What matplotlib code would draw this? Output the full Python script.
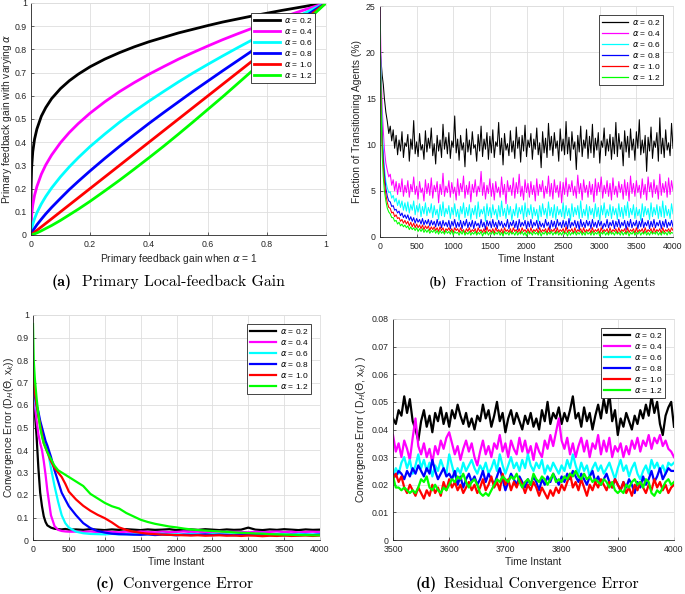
import numpy as np
import matplotlib
matplotlib.use('Agg')
import matplotlib.pyplot as plt

plt.rcParams['font.family'] = ['Liberation Sans', 'DejaVu Sans']
plt.rcParams['mathtext.fontset'] = 'dejavusans'

# ----------------------------------------------------------
# data
# ----------------------------------------------------------
alpha_labels = [r'$\alpha$ = 0.2', r'$\alpha$ = 0.4', r'$\alpha$ = 0.6',
                r'$\alpha$ = 0.8', r'$\alpha$ = 1.0', r'$\alpha$ = 1.2']
colors = ['#000000', '#ff00ff', '#00ffff', '#0000ff', '#ff0000', '#00ff00']

# (a) primary local-feedback gain
gain_x = [0, 0.0003, 0.002, 0.006, 0.012, 0.02, 0.035, 0.05, 0.07, 0.1, 0.13, 0.16, 0.2, 0.25, 0.3,
          0.35, 0.4, 0.45, 0.5, 0.55, 0.6, 0.65, 0.7, 0.75, 0.8, 0.85, 0.9, 0.95, 1.0]
gain_a02 = [0, 0.198, 0.289, 0.359, 0.413, 0.457, 0.512, 0.549, 0.588, 0.631, 0.665, 0.693, 0.725, 0.758, 0.786,
            0.811, 0.833, 0.852, 0.871, 0.887, 0.903, 0.918, 0.931, 0.944, 0.956, 0.968, 0.979, 0.990, 1.0]
gain_a04 = [0, 0.039, 0.083, 0.129, 0.171, 0.209, 0.262, 0.302, 0.345, 0.398, 0.442, 0.480, 0.525, 0.574, 0.618,
            0.657, 0.693, 0.726, 0.758, 0.787, 0.815, 0.842, 0.867, 0.891, 0.915, 0.937, 0.959, 0.980, 1.0]
gain_a06 = [0, 0.008, 0.024, 0.046, 0.070, 0.096, 0.134, 0.166, 0.203, 0.251, 0.294, 0.333, 0.381, 0.435, 0.486,
            0.533, 0.577, 0.619, 0.660, 0.699, 0.736, 0.772, 0.807, 0.841, 0.875, 0.907, 0.939, 0.970, 1.0]
gain_a08 = [0, 0.0015, 0.007, 0.017, 0.029, 0.044, 0.068, 0.091, 0.119, 0.158, 0.196, 0.231, 0.276, 0.330, 0.382,
            0.432, 0.481, 0.528, 0.574, 0.620, 0.664, 0.708, 0.751, 0.794, 0.837, 0.878, 0.919, 0.960, 1.0]
gain_a10 = [0, 0.0003, 0.002, 0.006, 0.012, 0.02, 0.035, 0.05, 0.07, 0.1, 0.13, 0.16, 0.2, 0.25, 0.3,
            0.35, 0.4, 0.45, 0.5, 0.55, 0.6, 0.65, 0.7, 0.75, 0.8, 0.85, 0.9, 0.95, 1.0]
gain_a12 = [0, 0.0001, 0.0006, 0.0022, 0.005, 0.009, 0.018, 0.028, 0.041, 0.063, 0.087, 0.111, 0.145, 0.190, 0.236,
            0.284, 0.333, 0.383, 0.435, 0.488, 0.542, 0.596, 0.652, 0.708, 0.765, 0.822, 0.882, 0.941, 1.0]

# (b) fraction of transitioning agents (%), early samples then every 20 steps
t_b = np.concatenate([[0, 10, 20, 30, 45, 60, 80], np.linspace(100, 4000, 196)])
frac_a02 = [20.5, 19.5, 18.5, 17.5, 16.5, 15, 13.5,
            12.5, 11.2, 12.0, 10.4, 11.6, 9.6, 11.0, 8.9, 10.5, 9.3, 11.4, 8.6, 10.2, 9.8,
            11.1, 8.2, 10.6, 9.5, 12.6, 9.0, 10.3, 8.7, 11.2, 9.4, 10.0, 8.4, 11.5, 9.2,
            10.7, 9.6, 11.8, 8.8, 10.1, 7.9, 11.0, 9.3, 10.5, 8.6, 12.2, 9.5, 10.8, 9.0,
            11.3, 8.5, 10.4, 9.7, 13.1, 9.1, 10.6, 8.3, 11.0, 9.4, 10.2, 7.6, 11.7, 9.2,
            10.5, 8.9, 11.4, 9.6, 10.0, 8.2, 11.1, 9.3, 12.0, 8.7, 10.6, 9.5, 11.3, 8.4,
            10.9, 9.1, 11.6, 8.6, 10.3, 9.8, 12.4, 8.9, 10.7, 7.8, 11.2, 9.4, 10.1, 8.8,
            11.5, 9.2, 10.4, 8.5, 11.9, 9.6, 10.8, 8.1, 11.0, 9.3, 12.1, 8.7, 10.5, 9.7,
            11.2, 8.4, 10.6, 9.5, 11.8, 8.9, 10.2, 7.5, 11.4, 9.1, 10.7, 8.6, 12.3, 9.4,
            10.9, 8.8, 11.3, 9.6, 10.4, 8.2, 11.7, 9.3, 10.6, 8.9, 12.5, 9.0, 10.8, 8.3,
            11.4, 9.5, 10.3, 7.3, 11.0, 9.2, 12.0, 8.7, 10.5, 9.6, 11.6, 8.5, 10.9, 9.1,
            12.2, 8.6, 10.7, 9.4, 11.3, 8.0, 10.4, 9.7, 11.8, 8.8, 10.6, 9.3, 11.1, 8.4,
            10.8, 9.0, 12.4, 8.7, 11.2, 9.5, 10.3, 7.7, 11.5, 9.2, 10.9, 8.6, 11.7, 9.4,
            10.6, 8.3, 11.4, 9.6, 12.7, 8.9, 10.5, 9.1, 11.0, 7.1, 10.8, 9.3, 11.9, 8.5,
            10.4, 9.7, 11.3, 8.2, 12.9, 9.0, 10.7, 8.6, 11.6, 9.4, 10.2, 8.8, 12.3, 9.6]
frac_a04 = [25, 21, 17, 14, 11.5, 9.5, 8.0,
            7.2, 6.5, 6.8, 5.6, 6.2, 5.0, 6.0, 4.6, 5.8, 4.9, 6.3, 4.4, 5.6, 4.8,
            6.1, 4.3, 5.7, 4.9, 6.5, 4.6, 5.5, 4.1, 6.0, 4.8, 5.3, 3.9, 6.2, 4.7,
            5.8, 4.5, 6.4, 4.2, 5.6, 4.9, 6.0, 3.7, 5.7, 4.6, 6.9, 4.4, 5.5, 4.8,
            6.1, 4.3, 5.9, 4.7, 5.4, 4.0, 6.3, 4.5, 5.8, 4.9, 6.6, 4.2, 5.6, 4.6,
            6.0, 3.8, 5.7, 4.8, 6.2, 4.4, 5.5, 4.9, 7.1, 4.5, 5.9, 4.1, 5.6, 4.7,
            6.3, 4.4, 5.8, 4.0, 6.0, 4.8, 5.4, 4.3, 6.5, 4.6, 5.7, 3.6, 6.1, 4.9,
            5.6, 4.5, 6.4, 4.2, 5.9, 4.7, 6.8, 4.4, 5.5, 4.0, 6.2, 4.8, 5.8, 4.3,
            6.0, 4.6, 5.6, 3.9, 6.3, 4.5, 5.7, 4.9, 6.1, 4.2, 5.5, 4.7, 6.6, 4.4,
            5.8, 4.1, 6.2, 4.8, 5.6, 4.3, 6.0, 3.7, 5.9, 4.6, 6.4, 4.4, 5.7, 4.9,
            6.1, 4.5, 5.5, 4.2, 6.7, 4.7, 5.8, 4.0, 6.2, 4.8, 5.6, 4.3, 6.0, 4.6,
            5.7, 3.8, 6.3, 4.5, 5.9, 4.9, 6.5, 4.2, 5.6, 4.7, 6.1, 4.4, 5.8, 4.0,
            6.4, 4.6, 5.5, 4.3, 6.0, 4.8, 5.7, 4.1, 6.2, 4.5, 5.9, 3.9, 6.6, 4.7,
            5.8, 4.4, 6.1, 4.8, 5.6, 4.2, 6.3, 4.6, 5.7, 4.0, 6.5, 4.9, 5.9, 4.3,
            6.2, 4.7, 5.6, 4.1, 6.8, 4.5, 5.8, 4.8, 6.0, 4.3, 6.4, 4.6, 6.1, 5.0]
frac_a06 = [23, 19, 15, 12, 9.5, 7.5, 6.0,
            5.3, 4.8, 4.9, 4.2, 4.5, 3.8, 4.2, 3.4, 4.0, 3.2, 3.9, 2.9, 3.7, 2.8,
            3.8, 2.6, 3.5, 2.9, 3.9, 2.4, 3.4, 2.7, 3.6, 2.2, 3.3, 2.5, 3.7, 2.3,
            3.2, 2.6, 3.6, 2.1, 3.4, 2.4, 3.0, 1.9, 3.5, 2.3, 3.8, 2.2, 3.1, 2.5,
            3.4, 2.0, 3.2, 2.4, 3.6, 2.2, 3.0, 1.8, 3.3, 2.5, 3.7, 2.1, 3.2, 2.3,
            3.5, 1.9, 3.1, 2.4, 3.4, 2.0, 3.8, 2.2, 3.0, 2.5, 3.3, 1.7, 3.6, 2.3,
            3.2, 2.1, 3.5, 2.4, 3.0, 1.9, 3.4, 2.2, 3.9, 2.3, 3.1, 2.0, 3.5, 2.4,
            3.3, 1.8, 3.0, 2.3, 3.6, 2.1, 3.2, 2.5, 3.4, 1.9, 3.7, 2.2, 3.1, 2.4,
            3.5, 2.0, 3.2, 2.3, 3.0, 1.7, 3.4, 2.2, 3.6, 2.4, 3.1, 2.0, 3.8, 2.3,
            3.2, 2.1, 3.5, 1.9, 3.3, 2.4, 3.0, 2.2, 3.7, 2.0, 3.4, 2.3, 3.1, 1.8,
            3.6, 2.2, 3.2, 2.4, 3.4, 2.0, 3.9, 2.1, 3.0, 2.3, 3.5, 1.9, 3.3, 2.4,
            3.1, 2.0, 3.6, 2.2, 3.2, 1.8, 3.4, 2.4, 3.7, 2.1, 3.0, 2.3, 3.5, 2.0,
            3.3, 2.4, 3.1, 1.9, 3.6, 2.2, 3.2, 2.0, 3.4, 2.3, 3.8, 2.1, 3.1, 2.4,
            3.5, 2.0, 3.2, 2.3, 3.0, 1.8, 3.6, 2.2, 3.3, 2.4, 3.1, 1.9, 3.7, 2.2,
            3.2, 2.4, 3.5, 2.0, 3.3, 2.2, 3.9, 2.1, 3.4, 2.3, 3.0, 2.0, 3.6, 2.5]
frac_a08 = [19, 16, 13, 10.5, 8.5, 6.8, 5.3,
            4.4, 3.9, 3.8, 3.3, 3.4, 2.9, 3.0, 2.6, 2.8, 2.3, 2.6, 2.1, 2.4, 2.0,
            2.4, 1.8, 2.2, 1.7, 2.1, 1.5, 2.0, 1.6, 1.9, 1.4, 2.0, 1.3, 1.8, 1.4,
            1.9, 1.2, 1.8, 1.3, 1.7, 1.1, 1.9, 1.2, 1.7, 1.0, 1.8, 1.2, 1.6, 1.1,
            1.8, 0.9, 1.7, 1.2, 1.9, 1.0, 1.6, 1.1, 1.8, 0.9, 1.7, 1.2, 1.9, 1.0,
            1.6, 1.1, 1.8, 0.9, 1.7, 1.2, 1.5, 1.0, 1.9, 1.1, 1.6, 0.8, 1.8, 1.2,
            1.7, 1.0, 1.9, 1.1, 1.6, 0.9, 1.8, 1.2, 1.7, 1.0, 1.5, 1.1, 1.9, 0.9,
            1.6, 1.2, 1.8, 1.0, 1.7, 0.8, 1.9, 1.1, 1.6, 1.2, 1.8, 0.9, 1.7, 1.1,
            1.9, 1.0, 1.6, 1.2, 1.8, 0.9, 1.7, 1.1, 1.5, 1.0, 1.9, 1.2, 1.6, 0.8,
            1.8, 1.1, 1.7, 0.9, 1.9, 1.2, 1.6, 1.0, 1.8, 1.1, 1.7, 0.9, 2.0, 1.0,
            1.6, 1.2, 1.8, 1.0, 1.7, 0.8, 1.9, 1.1, 1.6, 1.0, 1.8, 1.2, 1.7, 0.9,
            1.9, 1.1, 1.6, 1.0, 1.8, 1.2, 1.7, 0.9, 1.5, 1.1, 1.9, 1.0, 1.6, 1.2,
            1.8, 0.9, 1.7, 1.1, 1.9, 1.0, 1.6, 1.2, 1.8, 0.8, 1.7, 1.1, 1.9, 1.0,
            1.6, 1.2, 1.8, 0.9, 1.7, 1.1, 2.0, 1.0, 1.6, 1.2, 1.8, 0.9, 1.7, 1.1,
            1.9, 1.0, 1.6, 1.2, 1.8, 0.9, 1.7, 1.1, 1.9, 1.0, 1.6, 1.2, 1.8, 1.1]
frac_a10 = [20, 16.5, 13, 10, 7.8, 6.0, 4.6,
            3.7, 3.2, 3.1, 2.6, 2.7, 2.2, 2.4, 2.0, 2.1, 1.7, 1.9, 1.5, 1.8, 1.4,
            1.7, 1.2, 1.6, 1.1, 1.5, 1.0, 1.4, 1.0, 1.3, 0.9, 1.3, 0.8, 1.2, 0.9,
            1.2, 0.7, 1.1, 0.8, 1.1, 0.7, 1.0, 0.6, 1.1, 0.7, 1.0, 0.5, 0.9, 0.7,
            1.0, 0.6, 0.9, 0.5, 1.0, 0.7, 0.9, 0.5, 1.0, 0.6, 0.8, 0.4, 0.9, 0.6,
            1.0, 0.5, 0.8, 0.6, 0.9, 0.4, 1.0, 0.6, 0.8, 0.5, 0.9, 0.4, 1.1, 0.6,
            0.8, 0.5, 0.9, 0.4, 1.0, 0.6, 0.8, 0.5, 0.9, 0.3, 1.0, 0.6, 0.8, 0.5,
            0.9, 0.4, 1.0, 0.6, 0.8, 0.5, 0.9, 0.4, 1.0, 0.6, 0.8, 0.5, 0.9, 0.4,
            1.0, 0.5, 0.8, 0.6, 0.9, 0.4, 1.0, 0.5, 0.8, 0.6, 0.9, 0.4, 1.0, 0.5,
            0.8, 0.6, 0.9, 0.4, 1.0, 0.5, 0.8, 0.6, 0.9, 0.4, 1.1, 0.5, 0.8, 0.6,
            0.9, 0.4, 1.0, 0.5, 0.8, 0.6, 0.9, 0.4, 1.0, 0.5, 0.8, 0.6, 0.9, 0.4,
            1.0, 0.5, 0.8, 0.6, 0.9, 0.4, 1.0, 0.5, 0.8, 0.6, 0.9, 0.4, 1.0, 0.5,
            0.8, 0.6, 0.9, 0.4, 1.0, 0.5, 0.8, 0.6, 0.9, 0.3, 1.0, 0.5, 0.8, 0.6,
            0.9, 0.4, 1.0, 0.5, 0.8, 0.6, 0.9, 0.4, 1.0, 0.5, 0.8, 0.6, 0.9, 0.4,
            1.0, 0.5, 0.8, 0.6, 0.9, 0.4, 1.0, 0.5, 0.8, 0.6, 0.9, 0.5, 1.0, 0.7]
frac_a12 = [23.5, 17, 12, 8.8, 6.5, 5.0, 3.9,
            3.1, 2.7, 2.5, 2.1, 2.1, 1.7, 1.8, 1.4, 1.6, 1.2, 1.4, 1.1, 1.3, 1.0,
            1.2, 0.8, 1.1, 0.8, 1.0, 0.7, 1.0, 0.6, 0.9, 0.6, 0.9, 0.5, 0.8, 0.5,
            0.8, 0.4, 0.7, 0.5, 0.8, 0.4, 0.7, 0.3, 0.7, 0.4, 0.6, 0.3, 0.7, 0.4,
            0.6, 0.3, 0.7, 0.2, 0.6, 0.4, 0.5, 0.2, 0.6, 0.3, 0.7, 0.2, 0.5, 0.3,
            0.6, 0.2, 0.5, 0.3, 0.6, 0.2, 0.5, 0.3, 0.6, 0.1, 0.5, 0.3, 0.6, 0.2,
            0.5, 0.3, 0.6, 0.2, 0.5, 0.3, 0.6, 0.2, 0.5, 0.1, 0.6, 0.3, 0.5, 0.2,
            0.6, 0.3, 0.5, 0.2, 0.6, 0.2, 0.5, 0.3, 0.6, 0.2, 0.5, 0.1, 0.6, 0.3,
            0.5, 0.2, 0.6, 0.3, 0.5, 0.2, 0.6, 0.1, 0.5, 0.3, 0.6, 0.2, 0.5, 0.3,
            0.6, 0.2, 0.5, 0.3, 0.6, 0.2, 0.5, 0.2, 0.6, 0.3, 0.5, 0.1, 0.6, 0.2,
            0.5, 0.3, 0.6, 0.2, 0.5, 0.3, 0.6, 0.2, 0.5, 0.2, 0.6, 0.3, 0.5, 0.2,
            0.6, 0.2, 0.5, 0.3, 0.6, 0.1, 0.5, 0.3, 0.6, 0.2, 0.5, 0.2, 0.6, 0.3,
            0.5, 0.2, 0.6, 0.3, 0.5, 0.2, 0.6, 0.2, 0.5, 0.3, 0.6, 0.1, 0.5, 0.3,
            0.6, 0.2, 0.5, 0.3, 0.6, 0.2, 0.5, 0.3, 0.6, 0.2, 0.5, 0.2, 0.6, 0.3,
            0.5, 0.3, 0.6, 0.2, 0.5, 0.2, 0.6, 0.3, 0.5, 0.2, 0.6, 0.3, 0.5, 0.4]

# (c) convergence error
t_c = np.concatenate([[0, 10, 25, 50, 75, 100, 125, 150, 175, 200, 250, 300, 350, 400, 450, 500],
                      np.arange(600, 4001, 100)])
err_a02 = [0.70, 0.65, 0.57, 0.46, 0.32, 0.21, 0.15, 0.105, 0.08, 0.065, 0.055, 0.050, 0.048, 0.047, 0.049, 0.046,
           0.047, 0.045, 0.048, 0.046, 0.044, 0.047, 0.045, 0.048, 0.046, 0.044, 0.047, 0.045, 0.046, 0.048, 0.044,
           0.046, 0.047, 0.045, 0.048, 0.046, 0.044, 0.047, 0.045, 0.046, 0.055, 0.046, 0.044, 0.047, 0.045, 0.048,
           0.046, 0.044, 0.047, 0.045, 0.046]
err_a04 = [0.70, 0.66, 0.60, 0.53, 0.47, 0.43, 0.40, 0.35, 0.29, 0.22, 0.11, 0.062, 0.045, 0.040, 0.038, 0.037,
           0.037, 0.036, 0.038, 0.035, 0.037, 0.036, 0.034, 0.037, 0.035, 0.038, 0.036, 0.034, 0.037, 0.035, 0.036,
           0.038, 0.035, 0.037, 0.034, 0.036, 0.038, 0.035, 0.037, 0.036, 0.034, 0.037, 0.035, 0.036, 0.038, 0.035,
           0.037, 0.034, 0.036, 0.037, 0.035]
err_a06 = [0.70, 0.67, 0.63, 0.58, 0.55, 0.52, 0.49, 0.46, 0.43, 0.41, 0.32, 0.24, 0.17, 0.11, 0.075, 0.055,
           0.037, 0.030, 0.027, 0.026, 0.025, 0.027, 0.025, 0.026, 0.024, 0.027, 0.025, 0.026, 0.028, 0.025, 0.026,
           0.024, 0.027, 0.026, 0.025, 0.027, 0.026, 0.024, 0.026, 0.027, 0.025, 0.026, 0.028, 0.025, 0.027, 0.026,
           0.024, 0.027, 0.026, 0.025, 0.027]
err_a08 = [0.70, 0.68, 0.64, 0.60, 0.57, 0.53, 0.50, 0.47, 0.44, 0.42, 0.37, 0.31, 0.26, 0.21, 0.18, 0.15,
           0.11, 0.075, 0.053, 0.040, 0.033, 0.028, 0.026, 0.025, 0.024, 0.023, 0.025, 0.022, 0.024, 0.023, 0.021,
           0.024, 0.022, 0.023, 0.025, 0.022, 0.024, 0.023, 0.021, 0.024, 0.022, 0.023, 0.024, 0.022, 0.023, 0.021,
           0.024, 0.022, 0.023, 0.022, 0.024]
err_a10 = [0.78, 0.72, 0.66, 0.60, 0.55, 0.51, 0.47, 0.43, 0.41, 0.39, 0.35, 0.32, 0.30, 0.28, 0.25, 0.215,
           0.18, 0.152, 0.13, 0.112, 0.097, 0.078, 0.056, 0.045, 0.037, 0.032, 0.028, 0.026, 0.024, 0.023, 0.022,
           0.021, 0.020, 0.021, 0.019, 0.020, 0.021, 0.019, 0.020, 0.018, 0.020, 0.019, 0.017, 0.019, 0.018, 0.020,
           0.018, 0.019, 0.020, 0.018, 0.020]
err_a12 = [0.96, 0.80, 0.72, 0.63, 0.56, 0.50, 0.46, 0.43, 0.41, 0.39, 0.36, 0.33, 0.31, 0.30, 0.29, 0.28,
           0.26, 0.24, 0.205, 0.185, 0.165, 0.15, 0.14, 0.12, 0.105, 0.09, 0.08, 0.072, 0.066, 0.060, 0.056,
           0.051, 0.047, 0.044, 0.042, 0.040, 0.038, 0.036, 0.034, 0.032, 0.031, 0.029, 0.028, 0.026, 0.025, 0.024,
           0.023, 0.022, 0.022, 0.021, 0.021]

# (d) residual convergence error, t = 3500..4000
t_d = np.arange(3500, 4001, 5)
res_a02 = [0.044, 0.042, 0.047, 0.045, 0.052, 0.046, 0.051, 0.043, 0.040, 0.036, 0.043, 0.047, 0.041, 0.045, 0.039, 0.046, 0.043, 0.048, 0.042, 0.046,
           0.041, 0.047, 0.044, 0.049, 0.045, 0.042, 0.046, 0.041, 0.044, 0.040, 0.045, 0.043, 0.049, 0.044, 0.047, 0.041, 0.045, 0.050, 0.043, 0.046,
           0.039, 0.044, 0.047, 0.042, 0.046, 0.043, 0.040, 0.045, 0.042, 0.046, 0.041, 0.044, 0.040, 0.047, 0.043, 0.050, 0.042, 0.046, 0.044, 0.048,
           0.042, 0.046, 0.043, 0.047, 0.052, 0.044, 0.046, 0.041, 0.048, 0.043, 0.046, 0.040, 0.045, 0.049, 0.044, 0.051, 0.046, 0.053, 0.043, 0.047,
           0.038, 0.044, 0.041, 0.046, 0.043, 0.040, 0.045, 0.042, 0.047, 0.044, 0.049, 0.045, 0.052, 0.046, 0.050, 0.042, 0.038, 0.045, 0.048, 0.050,
           0.041]
res_a04 = [0.038, 0.032, 0.035, 0.030, 0.036, 0.033, 0.029, 0.037, 0.044, 0.034, 0.031, 0.035, 0.030, 0.033, 0.028, 0.034, 0.031, 0.036, 0.033, 0.037,
           0.039, 0.035, 0.031, 0.034, 0.029, 0.033, 0.036, 0.032, 0.035, 0.030, 0.027, 0.032, 0.036, 0.031, 0.034, 0.030, 0.035, 0.033, 0.038, 0.032,
           0.035, 0.030, 0.036, 0.033, 0.031, 0.037, 0.032, 0.036, 0.031, 0.034, 0.029, 0.035, 0.032, 0.030, 0.036, 0.033, 0.038, 0.034, 0.039, 0.044,
           0.036, 0.033, 0.037, 0.031, 0.035, 0.030, 0.034, 0.037, 0.032, 0.036, 0.030, 0.035, 0.033, 0.038, 0.031, 0.036, 0.032, 0.037, 0.030, 0.034,
           0.032, 0.035, 0.030, 0.034, 0.031, 0.036, 0.033, 0.037, 0.032, 0.036, 0.034, 0.038, 0.033, 0.037, 0.035, 0.038, 0.034, 0.036, 0.033, 0.032,
           0.030]
res_a06 = [0.023, 0.026, 0.024, 0.028, 0.030, 0.026, 0.029, 0.024, 0.027, 0.031, 0.026, 0.029, 0.025, 0.028, 0.023, 0.027, 0.025, 0.029, 0.026, 0.024,
           0.031, 0.027, 0.023, 0.026, 0.024, 0.028, 0.025, 0.027, 0.029, 0.026, 0.024, 0.027, 0.025, 0.028, 0.024, 0.026, 0.029, 0.025, 0.031, 0.027,
           0.024, 0.027, 0.030, 0.026, 0.028, 0.025, 0.029, 0.026, 0.031, 0.027, 0.025, 0.028, 0.026, 0.029, 0.024, 0.027, 0.025, 0.028, 0.026, 0.024,
           0.027, 0.025, 0.029, 0.026, 0.031, 0.027, 0.024, 0.028, 0.025, 0.027, 0.023, 0.026, 0.028, 0.025, 0.027, 0.024, 0.026, 0.028, 0.025, 0.022,
           0.026, 0.029, 0.025, 0.027, 0.023, 0.026, 0.028, 0.024, 0.022, 0.025, 0.027, 0.024, 0.029, 0.026, 0.028, 0.025, 0.027, 0.024, 0.028, 0.027,
           0.028]
res_a08 = [0.024, 0.023, 0.025, 0.024, 0.022, 0.025, 0.023, 0.026, 0.024, 0.027, 0.025, 0.023, 0.026, 0.024, 0.029, 0.025, 0.022, 0.024, 0.026, 0.023,
           0.024, 0.022, 0.025, 0.020, 0.023, 0.019, 0.022, 0.024, 0.021, 0.023, 0.020, 0.022, 0.025, 0.021, 0.024, 0.022, 0.020, 0.023, 0.026, 0.022,
           0.018, 0.021, 0.024, 0.022, 0.020, 0.023, 0.021, 0.019, 0.022, 0.020, 0.023, 0.021, 0.018, 0.022, 0.020, 0.023, 0.021, 0.024, 0.022, 0.020,
           0.023, 0.021, 0.024, 0.022, 0.025, 0.023, 0.021, 0.024, 0.022, 0.020, 0.023, 0.025, 0.021, 0.023, 0.020, 0.022, 0.024, 0.021, 0.019, 0.022,
           0.020, 0.018, 0.021, 0.019, 0.022, 0.020, 0.017, 0.021, 0.019, 0.023, 0.020, 0.022, 0.025, 0.021, 0.023, 0.026, 0.022, 0.024, 0.026, 0.025,
           0.025]
res_a10 = [0.022, 0.024, 0.021, 0.023, 0.019, 0.017, 0.020, 0.018, 0.016, 0.019, 0.017, 0.015, 0.018, 0.016, 0.020, 0.017, 0.019, 0.016, 0.021, 0.018,
           0.022, 0.019, 0.021, 0.018, 0.020, 0.017, 0.019, 0.021, 0.018, 0.020, 0.017, 0.019, 0.022, 0.018, 0.020, 0.023, 0.019, 0.021, 0.018, 0.024,
           0.020, 0.022, 0.018, 0.021, 0.019, 0.022, 0.020, 0.017, 0.020, 0.018, 0.021, 0.019, 0.016, 0.019, 0.017, 0.015, 0.018, 0.016, 0.019, 0.017,
           0.020, 0.018, 0.021, 0.024, 0.019, 0.021, 0.018, 0.022, 0.019, 0.016, 0.020, 0.018, 0.021, 0.019, 0.022, 0.020, 0.018, 0.021, 0.019, 0.022,
           0.020, 0.018, 0.021, 0.017, 0.019, 0.016, 0.020, 0.018, 0.021, 0.019, 0.017, 0.020, 0.018, 0.022, 0.019, 0.021, 0.018, 0.020, 0.017, 0.019,
           0.020]
res_a12 = [0.023, 0.019, 0.019, 0.018, 0.019, 0.018, 0.017, 0.018, 0.017, 0.019, 0.022, 0.021, 0.023, 0.019, 0.018, 0.020, 0.018, 0.017, 0.019, 0.018,
           0.020, 0.022, 0.021, 0.023, 0.022, 0.024, 0.021, 0.019, 0.021, 0.022, 0.020, 0.017, 0.016, 0.017, 0.016, 0.018, 0.020, 0.022, 0.021, 0.023,
           0.022, 0.021, 0.023, 0.022, 0.024, 0.021, 0.019, 0.021, 0.022, 0.020, 0.024, 0.022, 0.021, 0.023, 0.022, 0.020, 0.022, 0.024, 0.021, 0.022,
           0.021, 0.023, 0.022, 0.024, 0.023, 0.025, 0.023, 0.022, 0.024, 0.022, 0.023, 0.021, 0.022, 0.021, 0.020, 0.022, 0.021, 0.019, 0.021, 0.018,
           0.017, 0.018, 0.017, 0.020, 0.019, 0.021, 0.022, 0.020, 0.021, 0.019, 0.022, 0.021, 0.017, 0.016, 0.018, 0.017, 0.019, 0.021, 0.022, 0.020,
           0.021]

# tick values / labels
ticks_01 = [0, 0.2, 0.4, 0.6, 0.8, 1]
ticks_01_lab = ['0', '0.2', '0.4', '0.6', '0.8', '1']
ticks_tenth = [0, 0.1, 0.2, 0.3, 0.4, 0.5, 0.6, 0.7, 0.8, 0.9, 1]
ticks_tenth_lab = ['0', '0.1', '0.2', '0.3', '0.4', '0.5', '0.6', '0.7', '0.8', '0.9', '1']
ticks_time = [0, 500, 1000, 1500, 2000, 2500, 3000, 3500, 4000]
ticks_pct = [0, 5, 10, 15, 20, 25]
ticks_res_x = [3500, 3600, 3700, 3800, 3900, 4000]
ticks_res_y = [0, 0.01, 0.02, 0.03, 0.04, 0.05, 0.06, 0.07, 0.08]
ticks_res_y_lab = ['0', '0.01', '0.02', '0.03', '0.04', '0.05', '0.06', '0.07', '0.08']

# ----------------------------------------------------------
# figure
# ----------------------------------------------------------
W, H = 685, 594
fig = plt.figure(figsize=(W / 100, H / 100), dpi=100)


def px_axes(left, top, right, bottom):
    return fig.add_axes([left / W, 1 - bottom / H, (right - left) / W, (bottom - top) / H])


AX = '#262626'
GRID = '#dedede'
LABEL_FS = 7.4


def matlab_style(ax, xt, xtl, yt, ytl, xlim, ylim):
    ax.set_xlim(*xlim)
    ax.set_ylim(*ylim)
    ax.set_xticks(xt)
    ax.set_xticklabels(xtl)
    ax.set_yticks(yt)
    ax.set_yticklabels(ytl)
    ax.grid(True, color=GRID, lw=0.6)
    ax.set_axisbelow(True)
    ax.tick_params(direction='in', length=2.5, width=0.5, labelsize=6.3, colors=AX)
    ax.tick_params(axis='x', pad=3.6)
    ax.tick_params(axis='y', pad=3.0)
    for s in ['left', 'bottom']:
        ax.spines[s].set_color(AX)
        ax.spines[s].set_linewidth(0.6)
    for s in ['top', 'right']:
        ax.spines[s].set_color(GRID)
        ax.spines[s].set_linewidth(0.6)


def add_legend(ax, dx, dy, w, h, lw):
    leg = ax.legend(loc='upper right', bbox_to_anchor=(1 - dx / w, 1 - dy / h), borderaxespad=0,
                    fontsize=6, frameon=True, fancybox=False, edgecolor=AX, framealpha=1,
                    handlelength=3.2, handletextpad=0.4, labelspacing=0.25, borderpad=0.35)
    leg.get_frame().set_linewidth(0.6)
    for ln in leg.get_lines():
        ln.set_linewidth(lw)


# (a)
ax = px_axes(31, 3, 326, 235)
for ys, c, lab in zip([gain_a02, gain_a04, gain_a06, gain_a08, gain_a10, gain_a12], colors, alpha_labels):
    ax.plot(gain_x, ys, color=c, lw=2.0, label=lab)
matlab_style(ax, ticks_01, ticks_01_lab, ticks_tenth, ticks_tenth_lab, (0, 1), (0, 1))
ax.set_xlabel(r'Primary feedback gain when $\alpha$ = 1', fontsize=LABEL_FS, color=AX, labelpad=2.5)
ax.set_ylabel(r'Primary feedback gain with varying $\alpha$', fontsize=LABEL_FS, color=AX, labelpad=0.5)
add_legend(ax, 11, 10, 295, 232, 2.0)

# (b)
ax = px_axes(380, 6, 673, 237)
for ys, c, lab in zip([frac_a02, frac_a04, frac_a06, frac_a08, frac_a10, frac_a12], colors, alpha_labels):
    ax.plot(t_b, ys, color=c, lw=0.75, label=lab)
matlab_style(ax, ticks_time, [str(v) for v in ticks_time], ticks_pct, [str(v) for v in ticks_pct],
             (0, 4000), (0, 25))
ax.set_xlabel('Time Instant', fontsize=LABEL_FS, color=AX, labelpad=2.5)
ax.set_ylabel('Fraction of Transitioning Agents (%)', fontsize=LABEL_FS, color=AX, labelpad=3)
add_legend(ax, 10, 9, 293, 231, 0.9)

# (c)
ax = px_axes(33, 315, 320, 540)
for ys, c, lab in zip([err_a02, err_a04, err_a06, err_a08, err_a10, err_a12], colors, alpha_labels):
    ax.plot(t_c, ys, color=c, lw=1.6, label=lab)
matlab_style(ax, ticks_time, [str(v) for v in ticks_time], ticks_tenth, ticks_tenth_lab,
             (0, 4000), (0, 1))
ax.set_xlabel('Time Instant', fontsize=LABEL_FS, color=AX, labelpad=2.5)
ax.set_ylabel(r'Convergence Error (D$_H$($\Theta$, x$_k$))', fontsize=LABEL_FS, color=AX, labelpad=0.5)
add_legend(ax, 9, 9, 287, 225, 1.6)

# (d)
ax = px_axes(393, 319, 674, 540)
for ys, c, lab in zip([res_a02, res_a04, res_a06, res_a08, res_a10, res_a12], colors, alpha_labels):
    ax.plot(t_d, ys, color=c, lw=1.6, label=lab)
matlab_style(ax, ticks_res_x, [str(v) for v in ticks_res_x], ticks_res_y, ticks_res_y_lab,
             (3500, 4000), (0, 0.08))
ax.set_xlabel('Time Instant', fontsize=LABEL_FS, color=AX, labelpad=2.5)
ax.set_ylabel(r'Convergence Error ( D$_H$($\Theta$, x$_k$) )', fontsize=LABEL_FS, color=AX, labelpad=3)
add_legend(ax, 9, 9, 281, 221, 1.6)

# captions: tag, text, tag right edge, text left edge, baseline (px), size
captions = [('(a)', 'Primary Local-feedback Gain', 72, 82, 286, 11.4),
            ('(b)', 'Fraction of Transitioning Agents', 447, 455, 286, 10.0),
            ('(c)', 'Convergence Error', 115, 123, 588, 11.4),
            ('(d)', 'Residual Convergence Error', 437, 444, 588, 11.4)]
for tag, txt, xr, xl, yb, fs in captions:
    fig.text(xr / W, 1 - yb / H, tag, ha='right', va='baseline', fontsize=fs,
             family=['cmb10', 'DejaVu Serif'], fontweight='bold')
    fig.text(xl / W, 1 - yb / H, txt, ha='left', va='baseline', fontsize=fs,
             family=['cmr10', 'DejaVu Serif'])

fig.savefig('out.png', dpi=100)
